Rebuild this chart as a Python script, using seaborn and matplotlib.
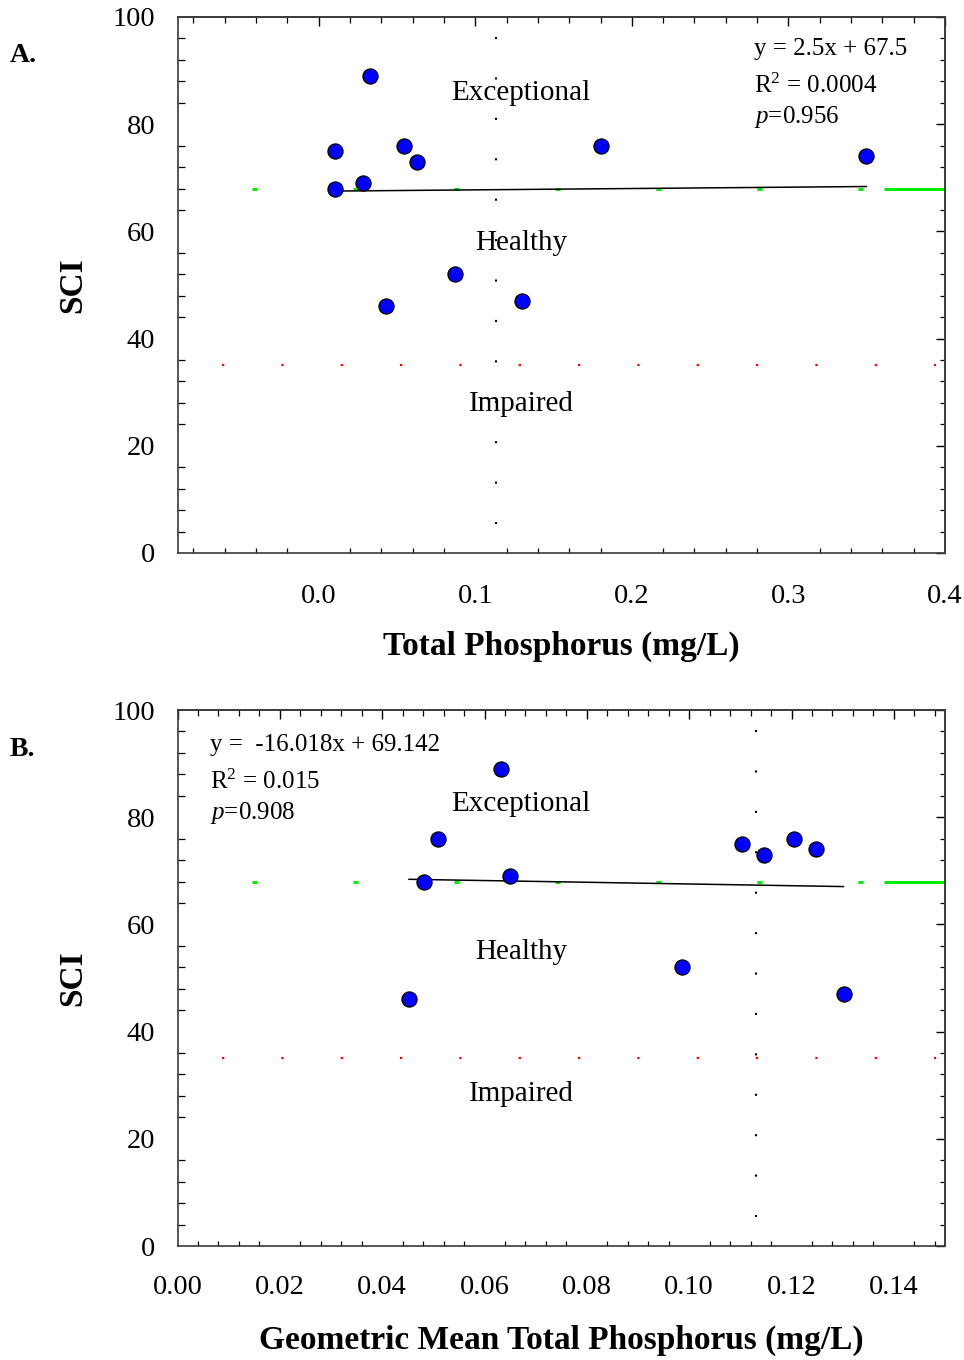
import numpy as np
import pandas as pd
import matplotlib
matplotlib.use("Agg")
import matplotlib.pyplot as plt
import seaborn as sns
from matplotlib.ticker import MultipleLocator, FixedLocator, FixedFormatter

# ---------------- data ----------------
sci_a = [89, 75, 76, 73, 69, 68, 46, 52, 47, 76, 74]
tp_a = [0.0326, 0.0105, 0.0543, 0.0630, 0.0281, 0.0105, 0.0432, 0.0873, 0.1300, 0.1803, 0.3498]

sci_b = [89, 75, 76, 73, 69, 68, 46, 52, 47, 76, 74]
gmtp_b = [0.0632, 0.1104, 0.0510, 0.1146, 0.0650, 0.0482, 0.0452, 0.0986, 0.1302, 0.1205, 0.1248]

fit_a = (2.5, 67.5)          # slope, intercept
fit_b = (-16.018, 69.142)

eq_a = ["y = 2.5x + 67.5", r"R$^{2}$ = 0.0004", r"$p$=0.956"]
eq_b = ["y =  -16.018x + 69.142", r"R$^{2}$ = 0.015", r"$p$=0.908"]

zones = ["Exceptional", "Healthy", "Impaired"]
exceptional_line = 68
impaired_line = 35
tp_threshold = 0.113

xticks_a = [0.0, 0.1, 0.2, 0.3, 0.4]
xticklabels_a = ["0.0", "0.1", "0.2", "0.3", "0.4"]
xticks_b = [0.00, 0.02, 0.04, 0.06, 0.08, 0.10, 0.12, 0.14]
xticklabels_b = ["0.00", "0.02", "0.04", "0.06", "0.08", "0.10", "0.12", "0.14"]
yticks = [0, 20, 40, 60, 80, 100]
yticklabels = ["0", "20", "40", "60", "80", "100"]

# ---------------- style ----------------
sns.set_style("white")
plt.rcParams["font.family"] = ["Liberation Serif", "DejaVu Serif"]
plt.rcParams["mathtext.fontset"] = "custom"
plt.rcParams["mathtext.rm"] = "Liberation Serif"
plt.rcParams["mathtext.it"] = "Liberation Serif:italic"
plt.rcParams["mathtext.bf"] = "Liberation Serif:bold"
for k in ["text.color", "axes.labelcolor", "xtick.color", "ytick.color",
          "xtick.labelcolor", "ytick.labelcolor"]:
    plt.rcParams[k] = "black"

W, H, DPI = 964, 1360, 100
fig = plt.figure(figsize=(W / DPI, H / DPI), dpi=DPI)
fig.patch.set_facecolor("white")

L, R = 177.5, 945.0
axA = fig.add_axes([L / W, 1 - 553 / H, (R - L) / W, (553 - 17) / H])
axB = fig.add_axes([L / W, 1 - 1246 / H, (R - L) / W, (1246 - 710) / H])

SPINE = "#3a3a3a"


def fr(px):
    return (px - L) / (R - L)


def panel(ax, x, y, fit, xlim, xticks, xticklabels, xminor, eq, eq_x, eq_ys,
          zone_ys, xlabel, xpad, xlab_y):
    ax.set_xlim(*xlim)
    ax.set_ylim(0, 100)

    # reference lines
    ax.plot([tp_threshold, tp_threshold], [96.2, 5.5], color="black", lw=1.5,
            linestyle=(0, (1, 18.4)), solid_capstyle="butt", dash_capstyle="butt", zorder=1)
    ax.axhline(impaired_line, xmin=fr(222), xmax=fr(936), color="#ff0000", lw=1.6,
               linestyle=(0, (1, 25.7)), dash_capstyle="butt", zorder=1)
    ax.axhline(exceptional_line, xmin=fr(252), xmax=fr(864), color="#00ee00", lw=2.16,
               linestyle=(0, (1.667, 32.0)), dash_capstyle="butt", zorder=1)
    ax.axhline(exceptional_line, xmin=fr(884), xmax=1.0, color="#00ee00", lw=2.16,
               solid_capstyle="butt", zorder=1)

    # regression line
    xs = np.array([min(x), max(x)])
    ys = fit[0] * xs + fit[1]
    sns.lineplot(x=xs, y=ys, ax=ax, color="black", lw=1.1, zorder=3)

    # points
    sns.scatterplot(x=x, y=y, ax=ax, s=118, color="#0000ff", edgecolor="black",
                    linewidth=0.9, zorder=5, legend=False)

    # zone labels
    for z, zy in zip(zones, zone_ys):
        ax.text(fr(521), zy, z, transform=ax.transAxes, ha="center", va="center",
                fontsize=21, zorder=6)
    for t, ty in zip(eq, eq_ys):
        ax.text(eq_x, ty, t, transform=ax.transAxes, ha="left", va="baseline",
                fontsize=18, zorder=6)

    # ticks
    ax.xaxis.set_major_locator(FixedLocator(xticks))
    ax.xaxis.set_major_formatter(FixedFormatter(xticklabels))
    ax.xaxis.set_minor_locator(MultipleLocator(xminor))
    ax.yaxis.set_major_locator(FixedLocator(yticks))
    ax.yaxis.set_major_formatter(FixedFormatter(yticklabels))
    ax.yaxis.set_minor_locator(MultipleLocator(4))
    ax.tick_params(axis="both", which="major", direction="inout", length=11.5,
                   width=1.0, color="black", labelsize=20.5, labelcolor="black")
    ax.tick_params(axis="x", which="major", pad=xpad)
    ax.tick_params(axis="y", which="major", pad=10.4)
    ax.tick_params(axis="x", which="minor", direction="in", length=3.5, width=0.9,
                   bottom=True, color="black")
    ax.tick_params(axis="y", which="minor", direction="in", length=5, width=0.9,
                   left=True, color="black")
    for s in ax.spines.values():
        s.set_color(SPINE)
        s.set_linewidth(1.2)

    # top / right inward ticks
    top = ax.secondary_xaxis("top")
    top.xaxis.set_major_locator(FixedLocator(xticks))
    top.xaxis.set_minor_locator(MultipleLocator(xminor))
    top.tick_params(which="major", direction="in", length=6.5, width=1.0, labeltop=False,
                    color="black")
    top.tick_params(which="minor", direction="in", length=4.3, width=0.9, color="black")
    rgt = ax.secondary_yaxis("right")
    rgt.yaxis.set_major_locator(FixedLocator(yticks))
    rgt.yaxis.set_minor_locator(MultipleLocator(4))
    rgt.tick_params(which="major", direction="in", length=6.5, width=1.0, labelright=False,
                    color="black")
    rgt.tick_params(which="minor", direction="in", length=3.8, width=0.9, color="black")
    for sec in (top, rgt):
        for s in sec.spines.values():
            s.set_color(SPINE)
            s.set_linewidth(1.2)

    ax.set_xlabel(xlabel, fontsize=24, fontweight="bold", color="black")
    ax.set_ylabel("SCI", fontsize=24, fontweight="bold", color="black")
    ax.xaxis.set_label_coords(0.5, xlab_y)
    ax.yaxis.set_label_coords(fr(88), 0.5)


panel(axA, tp_a, sci_a, fit_a, (-0.0902, 0.4), xticks_a, xticklabels_a, 0.02,
      eq_a, fr(754), [(553 - 55) / 536, (553 - 93.3) / 536, (553 - 122.7) / 536],
      [(553 - 93) / 536, (553 - 243) / 536, (553 - 404) / 536],
      "Total Phosphorus (mg/L)", 16.5, -0.1455)

panel(axB, gmtp_b, sci_b, fit_b, (0.0, 0.15), xticks_b, xticklabels_b, 0.004,
      eq_b, fr(210), [(1246 - 750.7) / 536, (1246 - 789.3) / 536, (1246 - 819.3) / 536],
      [(1246 - 804) / 536, (1246 - 952) / 536, (1246 - 1094) / 536],
      "Geometric Mean Total Phosphorus (mg/L)", 15, -0.147)

fig.text(10 / W, 1 - 55 / H, "A.", fontsize=20, fontweight="bold", ha="left", va="center")
fig.text(10 / W, 1 - 750 / H, "B.", fontsize=20, fontweight="bold", ha="left", va="center")

fig.savefig("out.png", dpi=DPI, facecolor="white")
